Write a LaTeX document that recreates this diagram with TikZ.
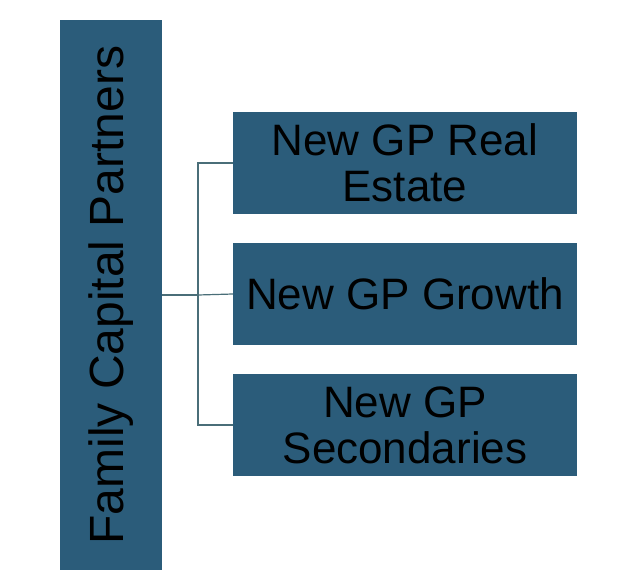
\documentclass[tikz,border=0pt]{standalone}
\usepackage{fontspec}
\setmainfont{Liberation Sans}
\usetikzlibrary{positioning}
\definecolor{boxblue}{HTML}{2B5C7A}
\definecolor{linkgrey}{HTML}{4A6E78}
\begin{document}
\begin{tikzpicture}[x=1pt, y=-1pt,
    fundbox/.style={draw=none, fill=boxblue, minimum width=344pt, minimum height=102pt,
      align=center, font=\fontsize{44}{46}\selectfont, inner sep=0pt},
    link/.style={draw=linkgrey, line width=1.2pt}]
  \useasboundingbox (0,0) rectangle (640,584);
  \node[fill=boxblue, minimum width=102pt, minimum height=550pt, inner sep=0pt] (fcp) at (111,295) {};
  \node[rotate=90, font=\fontsize{48}{50}\selectfont] (fcplabel) at (fcp.center) {Family Capital Partners};
  \node[fundbox] (re) at (405,163) {New GP Real\\Estate};
  \node[fundbox] (gr) at (405,294) {New GP Growth};
  \node[fundbox] (se) at (405,425) {New GP\\Secondaries};
  \coordinate (hub) at (198,295);
  % Connectors
  \draw[link] (fcp.east |- hub) -- (hub);
  \draw[link] (re.west) -| (hub) |- (se.west);
  \draw[link] (hub) -- (gr.west);
\end{tikzpicture}
\end{document}
